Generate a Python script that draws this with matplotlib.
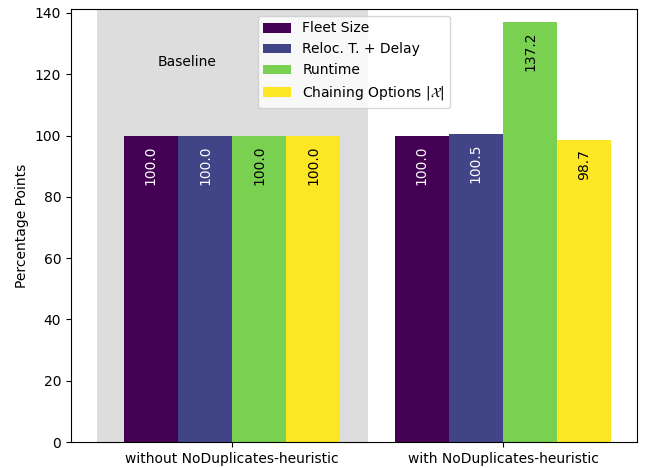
import numpy as np
import matplotlib
matplotlib.use("Agg")
import matplotlib.pyplot as plt

groups = ["without NoDuplicates-heuristic", "with NoDuplicates-heuristic"]
metrics = ["Fleet Size", "Reloc. T. + Delay", "Runtime", r"Chaining Options $|\mathcal{X}|$"]
values = {
    "Fleet Size": [100.0, 100.0],
    "Reloc. T. + Delay": [100.0, 100.5],
    "Runtime": [100.0, 137.2],
    r"Chaining Options $|\mathcal{X}|$": [100.0, 98.7],
}
colors = ["#440154", "#414487", "#7ad151", "#fde725"]
text_colors = ["white", "white", "black", "black"]

fig = plt.figure(figsize=(6.5, 4.68), dpi=100)
ax = fig.add_axes([71 / 650, 26 / 468, 566 / 650, 433 / 468])

x = np.arange(len(groups))
width = 0.2
ax.axvspan(-0.5, 0.5, color="#dddddd", zorder=0, lw=0)
ax.text(-0.165, 124, "Baseline", ha="center", va="center", fontsize=10)

for i, (m, c, tc) in enumerate(zip(metrics, colors, text_colors)):
    offs = (i - 1.5) * width
    bars = ax.bar(x + offs, values[m], width, color=c, label=m, zorder=2)
    for b, v in zip(bars, values[m]):
        ax.annotate(f"{v:.1f}", (b.get_x() + b.get_width() / 2, v),
                    xytext=(0, -7), textcoords="offset points",
                    rotation=90, ha="center", va="top", color=tc, fontsize=10, zorder=3)

ax.set_ylim(0, 141.3)
ax.set_xticks(x)
ax.set_xticklabels(groups)
ax.set_ylabel("Percentage Points")
ax.legend(loc="upper center")

fig.savefig("out.png", dpi=100)
